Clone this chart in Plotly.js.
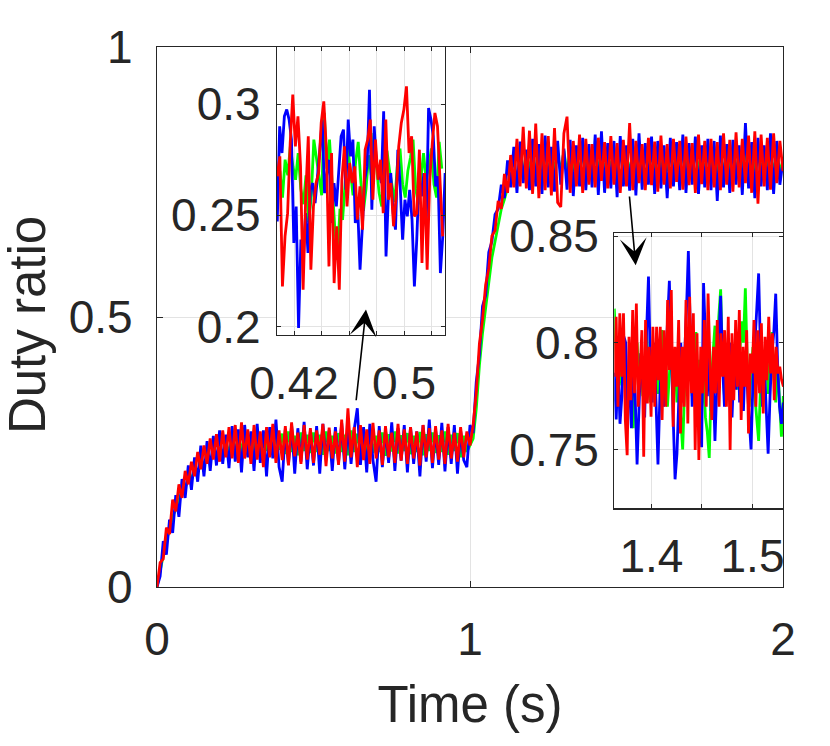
<!DOCTYPE html>
<html>
<head>
<meta charset="utf-8">
<script src="https://cdn.plot.ly/plotly-3.0.1.min.js"></script>
<style>html,body{margin:0;padding:0;background:#fff;}#chart{width:830px;height:746px;}</style>
</head>
<body>
<div id="chart"></div>
<script>
// ---------- main plot: sampled every 0.01 s from t = 0 ----------
const mainT0 = 0;
const mainDt = 0.01;
const mainGreen = [
0.000,0.030,0.058,0.088,0.105,0.130,0.145,0.160,0.178,0.185,
0.198,0.202,0.215,0.212,0.228,0.225,0.240,0.232,0.250,0.240,
0.258,0.245,0.270,0.248,0.275,0.252,0.280,0.250,0.284,0.246,
0.280,0.250,0.285,0.244,0.282,0.252,0.286,0.248,0.280,0.254,
0.284,0.246,0.288,0.250,0.280,0.244,0.286,0.252,0.282,0.248,
0.286,0.250,0.282,0.245,0.288,0.252,0.280,0.247,0.285,0.250,
0.282,0.244,0.290,0.250,0.284,0.246,0.281,0.252,0.287,0.248,
0.280,0.250,0.286,0.243,0.283,0.251,0.288,0.247,0.281,0.252,
0.285,0.246,0.280,0.250,0.287,0.244,0.283,0.252,0.286,0.248,
0.281,0.250,0.288,0.245,0.282,0.252,0.285,0.240,0.280,0.250,
0.262,0.275,0.330,0.410,0.470,0.520,0.565,0.610,0.640,0.670,
0.700,0.718,0.740,0.750,0.768,0.760,0.790,0.765,0.805,0.770,
0.808,0.766,0.804,0.770,0.810,0.764,0.806,0.772,0.802,0.768,
0.808,0.765,0.805,0.770,0.812,0.766,0.803,0.772,0.808,0.764,
0.806,0.770,0.810,0.765,0.804,0.772,0.808,0.766,0.812,0.770,
0.803,0.764,0.808,0.770,0.806,0.766,0.810,0.772,0.804,0.768,
0.810,0.765,0.805,0.770,0.808,0.764,0.812,0.768,0.806,0.772,
0.804,0.766,0.810,0.770,0.806,0.765,0.808,0.772,0.803,0.768,
0.808,0.764,0.806,0.770,0.812,0.766,0.804,0.772,0.808,0.765,
0.806,0.770,0.810,0.764,0.805,0.772,0.808,0.766,0.803,0.770,
0.790];
const mainBlue = [
0.000,0.020,0.085,0.060,0.125,0.100,0.170,0.130,0.200,0.165,
0.225,0.180,0.240,0.195,0.262,0.205,0.270,0.215,0.280,0.225,
0.290,0.228,0.282,0.220,0.298,0.232,0.292,0.212,0.300,0.240,
0.288,0.215,0.302,0.230,0.290,0.205,0.296,0.238,0.310,0.222,
0.195,0.292,0.226,0.300,0.210,0.294,0.232,0.306,0.218,0.288,
0.225,0.298,0.210,0.302,0.236,0.290,0.215,0.296,0.230,0.304,
0.218,0.300,0.228,0.292,0.331,0.226,0.296,0.212,0.302,0.235,
0.195,0.298,0.222,0.290,0.230,0.305,0.215,0.294,0.234,0.300,
0.212,0.296,0.228,0.288,0.205,0.300,0.232,0.310,0.220,0.292,
0.226,0.304,0.214,0.296,0.228,0.300,0.210,0.290,0.235,0.222,
0.300,0.285,0.380,0.430,0.520,0.540,0.620,0.640,0.690,0.700,
0.745,0.720,0.790,0.740,0.815,0.730,0.825,0.748,0.810,0.735,
0.830,0.742,0.820,0.728,0.836,0.740,0.815,0.732,0.826,0.745,
0.812,0.736,0.828,0.724,0.818,0.742,0.832,0.735,0.820,0.740,
0.838,0.726,0.844,0.730,0.822,0.738,0.826,0.722,0.835,0.742,
0.818,0.734,0.830,0.725,0.840,0.736,0.822,0.745,0.834,0.728,
0.826,0.738,0.818,0.720,0.832,0.742,0.824,0.735,0.838,0.730,
0.822,0.745,0.834,0.728,0.818,0.740,0.830,0.735,0.826,0.715,
0.836,0.740,0.820,0.730,0.828,0.745,0.818,0.726,0.859,0.738,
0.824,0.720,0.832,0.742,0.818,0.735,0.840,0.728,0.826,0.745,
0.790];
const mainRed = [
0.000,0.045,0.052,0.110,0.098,0.162,0.140,0.190,0.165,0.215,
0.190,0.232,0.205,0.250,0.218,0.262,0.228,0.275,0.236,0.283,
0.232,0.290,0.240,0.296,0.238,0.300,0.230,0.305,0.238,0.292,
0.228,0.300,0.236,0.288,0.222,0.296,0.240,0.302,0.230,0.290,
0.235,0.298,0.225,0.305,0.242,0.286,0.228,0.300,0.236,0.294,
0.230,0.290,0.245,0.302,0.224,0.295,0.238,0.288,0.226,0.310,
0.232,0.331,0.240,0.296,0.222,0.300,0.235,0.292,0.228,0.304,
0.238,0.290,0.226,0.298,0.240,0.286,0.230,0.302,0.234,0.292,
0.228,0.296,0.238,0.288,0.225,0.300,0.240,0.294,0.230,0.298,
0.236,0.290,0.228,0.302,0.238,0.286,0.232,0.296,0.240,0.288,
0.262,0.300,0.360,0.450,0.495,0.560,0.590,0.650,0.660,0.715,
0.700,0.765,0.730,0.800,0.740,0.830,0.742,0.852,0.738,0.845,
0.728,0.858,0.720,0.840,0.735,0.835,0.725,0.850,0.712,0.704,
0.840,0.871,0.730,0.826,0.742,0.838,0.730,0.830,0.745,0.820,
0.740,0.832,0.752,0.824,0.738,0.835,0.745,0.822,0.730,0.828,
0.742,0.859,0.735,0.826,0.748,0.820,0.735,0.832,0.744,0.825,
0.732,0.836,0.745,0.820,0.738,0.830,0.750,0.826,0.736,0.834,
0.744,0.822,0.730,0.838,0.746,0.826,0.735,0.830,0.740,0.824,
0.735,0.840,0.745,0.828,0.732,0.842,0.740,0.830,0.748,0.836,
0.730,0.844,0.710,0.838,0.742,0.832,0.736,0.840,0.748,0.826,
0.770];

// ---------- inset 1 (around t = 0.42 ... 0.53) ----------
const in1T0 = 0.4078;
const in1GreenDt = 0.0019, in1BlueDt = 0.00172, in1RedDt = 0.00188;
const in1Green = [
0.262,0.270,0.258,0.275,0.268,0.281,0.272,0.266,0.278,0.262,
0.255,0.268,0.247,0.258,0.284,0.276,0.266,0.259,0.296,0.271,
0.284,0.262,0.245,0.230,0.253,0.248,0.266,0.281,0.270,0.259,
0.274,0.283,0.265,0.252,0.262,0.277,0.268,0.287,0.272,0.260,
0.254,0.266,0.279,0.270,0.262,0.256,0.273,0.280,0.264,0.258,
0.270,0.276,0.284,0.262,0.255,0.268,0.278,0.266,0.272,0.280,
0.264,0.258,0.283,0.271];
const in1Blue = [
0.2473,0.2900,0.2780,0.2945,0.2975,0.2930,0.2840,0.2376,0.2540,0.1994,
0.2391,0.2301,0.2510,0.2331,0.2615,0.2645,0.2555,0.2660,0.2795,0.2930,
0.2600,0.2690,0.2750,0.2466,0.2645,0.2540,0.2690,0.2855,0.2885,0.2615,
0.2930,0.2765,0.2840,0.2466,0.2540,0.2256,0.2451,0.2660,0.2720,0.3064,
0.2525,0.2900,0.2720,0.2705,0.2645,0.2967,0.2316,0.2585,0.2690,0.2510,
0.2436,0.2795,0.2630,0.2391,0.2570,0.2496,0.2615,0.2481,0.2181,0.2391,
0.2675,0.2585,0.2690,0.2451,0.2982,0.2930,0.2855,0.2630,0.2675,0.2241,
0.2406,0.2690];
const in1Red = [
0.2675,0.2765,0.2181,0.2406,0.2510,0.2825,0.3042,0.2810,0.2945,0.2720,
0.2166,0.2585,0.2855,0.2256,0.2540,0.2645,0.2690,0.2915,0.3012,0.2795,
0.2271,0.2780,0.2196,0.2451,0.2166,0.2660,0.2810,0.2540,0.2735,0.2645,
0.2720,0.2481,0.2630,0.2436,0.2795,0.2840,0.2930,0.2570,0.2840,0.2660,
0.2750,0.2510,0.2930,0.2570,0.2645,0.2451,0.2585,0.2810,0.2915,0.2975,
0.3079,0.2780,0.2855,0.2496,0.2510,0.2795,0.2286,0.2690,0.2256,0.2660,
0.2825,0.2960,0.2900,0.2660,0.2406];

// ---------- inset 2 (around t = 1.36 ... 1.53) ----------
const in2T0 = 1.3632;
const in2GreenDt = 0.00188, in2BlueDt = 0.00188, in2RedDt = 0.00182;
const in2Green = [
0.816,0.790,0.772,0.795,0.780,0.800,0.785,0.770,0.792,0.778,
0.760,0.788,0.800,0.782,0.795,0.775,0.790,0.805,0.785,0.772,
0.796,0.782,0.800,0.776,0.790,0.806,0.780,0.795,0.770,0.788,
0.800,0.778,0.792,0.772,0.785,0.765,0.750,0.778,0.796,0.782,
0.800,0.775,0.790,0.805,0.780,0.792,0.770,0.785,0.765,0.758,
0.746,0.780,0.795,0.808,0.785,0.812,0.825,0.790,0.775,0.795,
0.780,0.800,0.772,0.788,0.802,0.778,0.795,0.810,0.800,0.8255,
0.790,0.770,0.785,0.798,0.775,0.765,0.754,0.780,0.795,0.782,
0.800,0.776,0.790,0.805,0.785,0.772,0.790,0.770,0.756,0.775];
const in2Blue = [
0.786,0.764,0.790,0.762,0.775,0.803,0.800,0.770,0.780,0.760,
0.792,0.775,0.743,0.770,0.795,0.780,0.765,0.805,0.831,0.790,
0.772,0.800,0.765,0.743,0.775,0.795,0.770,0.788,0.812,0.829,
0.795,0.760,0.736,0.748,0.780,0.800,0.772,0.790,0.815,0.843,
0.808,0.770,0.790,0.762,0.785,0.770,0.751,0.828,0.800,0.775,
0.795,0.768,0.785,0.754,0.780,0.800,0.822,0.790,0.770,0.795,
0.782,0.800,0.765,0.790,0.778,0.805,0.772,0.790,0.768,0.795,
0.780,0.760,0.750,0.782,0.800,0.815,0.8325,0.795,0.770,0.790,
0.765,0.748,0.775,0.795,0.805,0.823,0.790,0.770,0.762,0.772];
const in2Red = [
0.7841,0.8122,0.7700,0.8138,0.7841,0.8138,0.7638,0.7473,0.8028,0.7731,
0.8153,0.7763,0.8184,0.7700,0.7856,0.8059,0.7466,0.8106,0.7716,0.7981,
0.7653,0.8075,0.7700,0.8075,0.7825,0.8075,0.7638,0.8059,0.7700,0.8200,
0.7872,0.8247,0.7606,0.7981,0.7794,0.8106,0.7575,0.7981,0.7700,0.8200,
0.7622,0.8216,0.7763,0.8138,0.7497,0.8044,0.7450,0.7981,0.7763,0.8106,
0.7700,0.8231,0.7919,0.7638,0.7981,0.7763,0.8106,0.7700,0.8044,0.7841,
0.8059,0.7700,0.8122,0.7497,0.8044,0.7731,0.8106,0.7794,0.8153,0.7638,
0.7981,0.7794,0.8059,0.7575,0.7950,0.7856,0.8106,0.7700,0.8059,0.7763,
0.8091,0.7669,0.8028,0.7825,0.8122,0.7856,0.8044,0.7731,0.7981,0.7856,
0.7888,0.7825,0.7794];

// ---------- axis ticks and labels ----------
const mainXTicks = [0, 1, 2];
const mainYTicks = [0, 0.5, 1];
const in1XTicks = [0.42, 0.44, 0.46, 0.48, 0.5, 0.52];
const in1XLabels = ['0.42', '', '', '', '0.5', ''];
const in1YTicks = [0.2, 0.25, 0.3];
const in2XTicks = [1.4, 1.45, 1.5];
const in2XLabels = ['1.4', '', '1.5'];
const in2YTicks = [0.75, 0.8, 0.85];
const xTitle = 'Time (s)';
const yTitle = 'Duty ratio';

const colGreen = '#00ff00', colBlue = '#0000ff', colRed = '#ff0000';
const lw = 2.8;
const txt = '#262626';
const gridC = '#e3e3e3';
const FONT = 'Liberation Sans, Arial, Helvetica, sans-serif';

function tr(y, x0, dx, color, xa, ya) {
  return {type: 'scatter', mode: 'lines', y: y, x0: x0, dx: dx,
    xaxis: xa, yaxis: ya, line: {color: color, width: lw}, hoverinfo: 'skip', showlegend: false};
}

const data = [
  tr(mainGreen, mainT0, mainDt, colGreen, 'x', 'y'),
  tr(mainBlue, mainT0, mainDt, colBlue, 'x', 'y'),
  tr(mainRed, mainT0, mainDt, colRed, 'x', 'y'),
  tr(in1Green, in1T0, in1GreenDt, colGreen, 'x2', 'y2'),
  tr(in1Blue, in1T0, in1BlueDt, colBlue, 'x2', 'y2'),
  tr(in1Red, in1T0, in1RedDt, colRed, 'x2', 'y2'),
  tr(in2Green, in2T0, in2GreenDt, colGreen, 'x3', 'y3'),
  tr(in2Blue, in2T0, in2BlueDt, colBlue, 'x3', 'y3'),
  tr(in2Red, in2T0, in2RedDt, colRed, 'x3', 'y3')
];

function ax(extra) {
  return Object.assign({
    showline: true, linecolor: txt, linewidth: 1.2, mirror: 'ticks',
    ticks: 'inside', ticklen: 6, tickcolor: txt, tickwidth: 1,
    showgrid: true, gridcolor: gridC, gridwidth: 1, zeroline: false,
    tickfont: {family: FONT, size: 46, color: txt}, fixedrange: true
  }, extra);
}

const layout = {
  width: 830, height: 746,
  paper_bgcolor: '#ffffff', plot_bgcolor: '#ffffff',
  margin: {l: 157, r: 47, t: 47, b: 159},
  showlegend: false,
  xaxis: ax({domain: [0, 1], range: [0, 2], tickmode: 'array', tickvals: mainXTicks,
    ticklabelstandoff: 12,
    title: {text: xTitle, font: {family: FONT, size: 51, color: txt}, standoff: 21}}),
  yaxis: ax({domain: [0, 1], range: [0, 1], tickmode: 'array', tickvals: mainYTicks,
    ticklabelstandoff: 14}),
  xaxis2: ax({domain: [0.1917, 0.460], range: [0.4076, 0.5298], anchor: 'y2',
    tickmode: 'array', tickvals: in1XTicks, ticktext: in1XLabels, ticklen: 4, ticklabelstandoff: 8}),
  yaxis2: ax({domain: [0.4667, 1.0], range: [0.1963, 0.3256], anchor: 'x2',
    tickmode: 'array', tickvals: in1YTicks, ticklen: 4, ticklabelstandoff: 6}),
  xaxis3: ax({domain: [0.7305, 1.0], range: [1.3632, 1.5302], anchor: 'y3',
    tickmode: 'array', tickvals: in2XTicks, ticktext: in2XLabels, ticklen: 4, ticklabelstandoff: 7}),
  yaxis3: ax({domain: [0.1457, 0.655], range: [0.7224, 0.8513], anchor: 'x3',
    tickmode: 'array', tickvals: in2YTicks, ticklen: 4, ticklabelstandoff: 5}),
  annotations: [
    {xref: 'paper', yref: 'paper', x: -0.2077, y: 0.485, xanchor: 'center', yanchor: 'middle',
     text: yTitle, textangle: -90, showarrow: false, font: {family: FONT, size: 51, color: txt}},
    {xref: 'x', yref: 'y', axref: 'x', ayref: 'y', x: 0.6677, y: 0.514, ax: 0.6358, ay: 0.343,
     text: '', showarrow: true, arrowhead: 3, arrowsize: 2.8, arrowwidth: 1.6, arrowcolor: '#000000'},
    {xref: 'x', yref: 'y', axref: 'x', ayref: 'y', x: 1.5294, y: 0.596, ax: 1.509, ay: 0.726,
     text: '', showarrow: true, arrowhead: 3, arrowsize: 2.8, arrowwidth: 1.6, arrowcolor: '#000000'}
  ]
};

Plotly.newPlot('chart', data, layout, {staticPlot: true, displayModeBar: false});
</script>
</body>
</html>
